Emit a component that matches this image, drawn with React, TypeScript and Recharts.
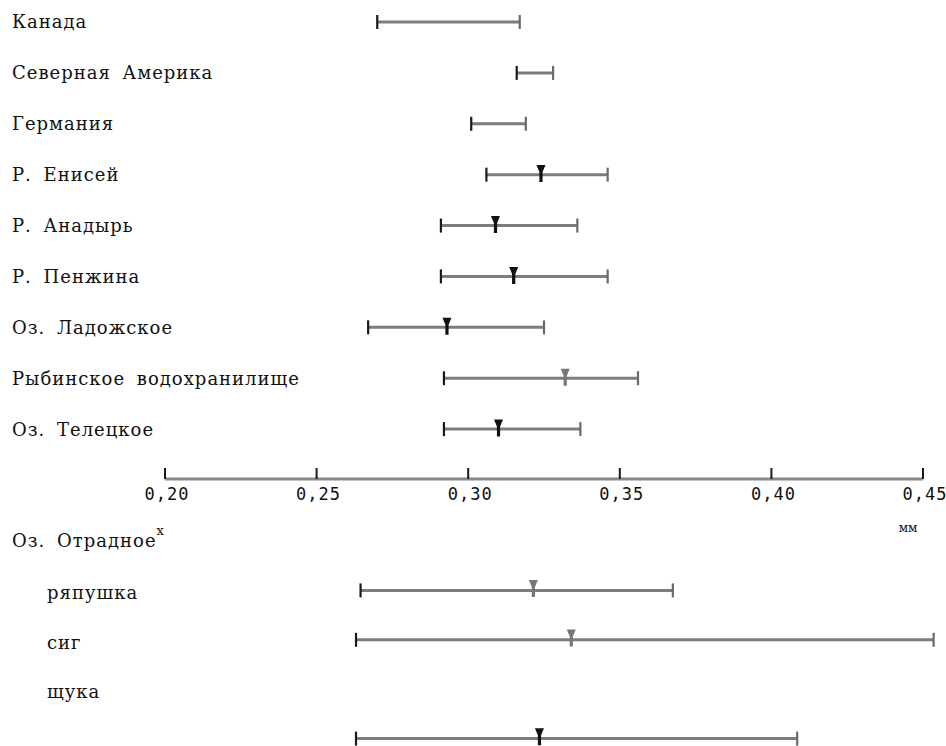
import React from 'react';
import { ComposedChart, Bar, Line, XAxis, YAxis } from 'recharts';

// ---- data (in mm) ----
const categoriesTop = [
  'Канада',
  'Северная Америка',
  'Германия',
  'Р. Енисей',
  'Р. Анадырь',
  'Р. Пенжина',
  'Оз. Ладожское',
  'Рыбинское водохранилище',
  'Оз. Телецкое',
];
const lowTop = [0.270, 0.316, 0.301, 0.306, 0.291, 0.291, 0.267, 0.292, 0.292];
const highTop = [0.317, 0.328, 0.319, 0.346, 0.336, 0.346, 0.325, 0.356, 0.337];
const meanTop = [null, null, null, 0.324, 0.309, 0.315, 0.293, 0.332, 0.310];

const categoriesBottom = ['Оз. Отрадное', 'ряпушка', 'сиг', 'щука', ''];
const superscriptBottom = ['x', '', '', '', ''];
const indentBottom = [false, true, true, true, false];
const lowBottom = [null, 0.2645, 0.263, null, 0.263];
const highBottom = [null, 0.3675, 0.4535, null, 0.4085];
const meanBottom = [null, 0.3215, 0.334, null, 0.3235];

const xTicks = [0.2, 0.25, 0.3, 0.35, 0.4, 0.45];
const unitLabel = 'мм';

// styling per row (marker shade)
const meanShadeTop = ['', '', '', 'dark', 'dark', 'dark', 'dark', 'light', 'dark'];
const meanShadeBottom = ['', 'light', 'light', '', 'dark'];

const LINE = '#7d7d7d';
const DARK = '#1a1a1a';
const LABEL_FONT = '"DejaVu Serif", serif';
const TICK_FONT = '"DejaVu Sans Mono", monospace';

const topData = categoriesTop.map((name, i) => ({
  name,
  low: lowTop[i],
  high: highTop[i],
  mean: meanTop[i],
  shade: meanShadeTop[i],
  sup: '',
  indent: false,
}));

const bottomData = categoriesBottom.map((name, i) => ({
  name,
  low: lowBottom[i],
  high: highBottom[i],
  mean: meanBottom[i],
  shade: meanShadeBottom[i],
  sup: superscriptBottom[i],
  indent: indentBottom[i],
}));

const rangeKey = (d: any) => (d.low == null ? null : [d.low, d.high]);

const RangeShape = (props: any) => {
  const { x, y, width, height, payload } = props;
  if (!payload || payload.low == null || x == null || isNaN(x)) return <g />;
  const cy = y + height / 2;
  const x2 = x + width;
  return (
    <g>
      <line x1={x} x2={x2} y1={cy} y2={cy} stroke={LINE} strokeWidth={3} />
      <line x1={x} x2={x} y1={cy - 7} y2={cy + 7} stroke={DARK} strokeWidth={2.2} />
      <line x1={x2} x2={x2} y1={cy - 7} y2={cy + 7} stroke={'#6a6a6a'} strokeWidth={2.2} />
    </g>
  );
};

const MeanMark = (props: any) => {
  const { cx, cy, payload, index } = props;
  if (!payload || payload.mean == null || cx == null || isNaN(cx)) return <g key={`m${index}`} />;
  const fill = payload.shade === 'light' ? '#777777' : '#111111';
  const d = `M${cx - 4.5},${cy - 10} L${cx + 4.5},${cy - 10} L${cx + 1.6},${cy - 3} L${cx + 1.6},${cy + 7} L${cx - 1.6},${cy + 7} L${cx - 1.6},${cy - 3} Z`;
  return <path key={`m${index}`} d={d} fill={fill} />;
};

const makeRowTick = (data: any[], shift: number) => (props: any) => {
  const { y, payload, index } = props;
  const row = data[index] || {};
  const tx = row.indent ? 47 : 12;
  return (
    <text
      x={tx}
      y={y}
      dy={shift + (row.indent ? 3 : 0)}
      textAnchor="start"
      fontFamily={LABEL_FONT}
      fontSize={18}
      letterSpacing={1}
      wordSpacing={5}
      fill="#111"
    >
      {payload.value}
      {row.sup ? (
        <tspan dy={-12} fontSize={13} letterSpacing={0}>
          {row.sup}
        </tspan>
      ) : null}
    </text>
  );
};

const AxisTick = (props: any) => {
  const { x, y, payload } = props;
  const label = payload.value.toFixed(2).replace('.', ',');
  return (
    <g>
      <line x1={x} x2={x} y1={y - 11} y2={y} stroke={DARK} strokeWidth={2} />
      <text
        x={x + 2}
        y={y + 21}
        textAnchor="middle"
        fontFamily={TICK_FONT}
        fontSize={17}
        letterSpacing={1}
        fill="#111"
      >
        {label}
      </text>
    </g>
  );
};

const UnitLabel = (props: any) => {
  const vb = props.viewBox || {};
  return (
    <text
      x={vb.x + vb.width - 15}
      y={vb.y + 53}
      textAnchor="middle"
      fontFamily={LABEL_FONT}
      fontSize={12}
      fill="#111"
    >
      {unitLabel}
    </text>
  );
};

const TopTick = makeRowTick(topData, 6);
const BottomTick = makeRowTick(bottomData, 6);

export default function App() {
  return (
    <div
      style={{
        position: 'absolute',
        left: 0,
        top: 0,
        width: 946,
        height: 746,
        overflow: 'hidden',
        background: '#fff',
      }}
    >
      <div style={{ position: 'absolute', left: 0, top: -3 }}>
        <ComposedChart
          width={946}
          height={542}
          data={topData}
          layout="vertical"
          margin={{ top: 0, right: 23, bottom: 0, left: 0 }}
        >
          <XAxis
            type="number"
            domain={[0.2, 0.45]}
            ticks={xTicks}
            interval={0}
            height={60}
            tickSize={0}
            tickMargin={0}
            tickLine={false}
            axisLine={{ stroke: '#8a8a8a', strokeWidth: 3 }}
            tick={<AxisTick />}
            label={{ content: <UnitLabel /> } as any}
          />
          <YAxis
            type="category"
            dataKey="name"
            width={165}
            padding={{ top: 0, bottom: 24 }}
            axisLine={false}
            tickLine={false}
            interval={0}
            tick={<TopTick />}
          />
          <Bar dataKey={rangeKey} barSize={16} shape={<RangeShape />} isAnimationActive={false} />
          <Line
            dataKey="mean"
            stroke="none"
            dot={<MeanMark />}
            activeDot={false}
            isAnimationActive={false}
          />
        </ComposedChart>
      </div>
      <div style={{ position: 'absolute', left: 0, top: 516 }}>
        <ComposedChart
          width={946}
          height={247}
          data={bottomData}
          layout="vertical"
          margin={{ top: 0, right: 946 - (165 + 0.255 * 3032), bottom: 0, left: 0 }}
        >
          <XAxis type="number" domain={[0.2, 0.455]} hide />
          <YAxis
            type="category"
            dataKey="name"
            width={165}
            axisLine={false}
            tickLine={false}
            interval={0}
            tick={<BottomTick />}
          />
          <Bar dataKey={rangeKey} barSize={16} shape={<RangeShape />} isAnimationActive={false} />
          <Line
            dataKey="mean"
            stroke="none"
            dot={<MeanMark />}
            activeDot={false}
            isAnimationActive={false}
          />
        </ComposedChart>
      </div>
    </div>
  );
}
